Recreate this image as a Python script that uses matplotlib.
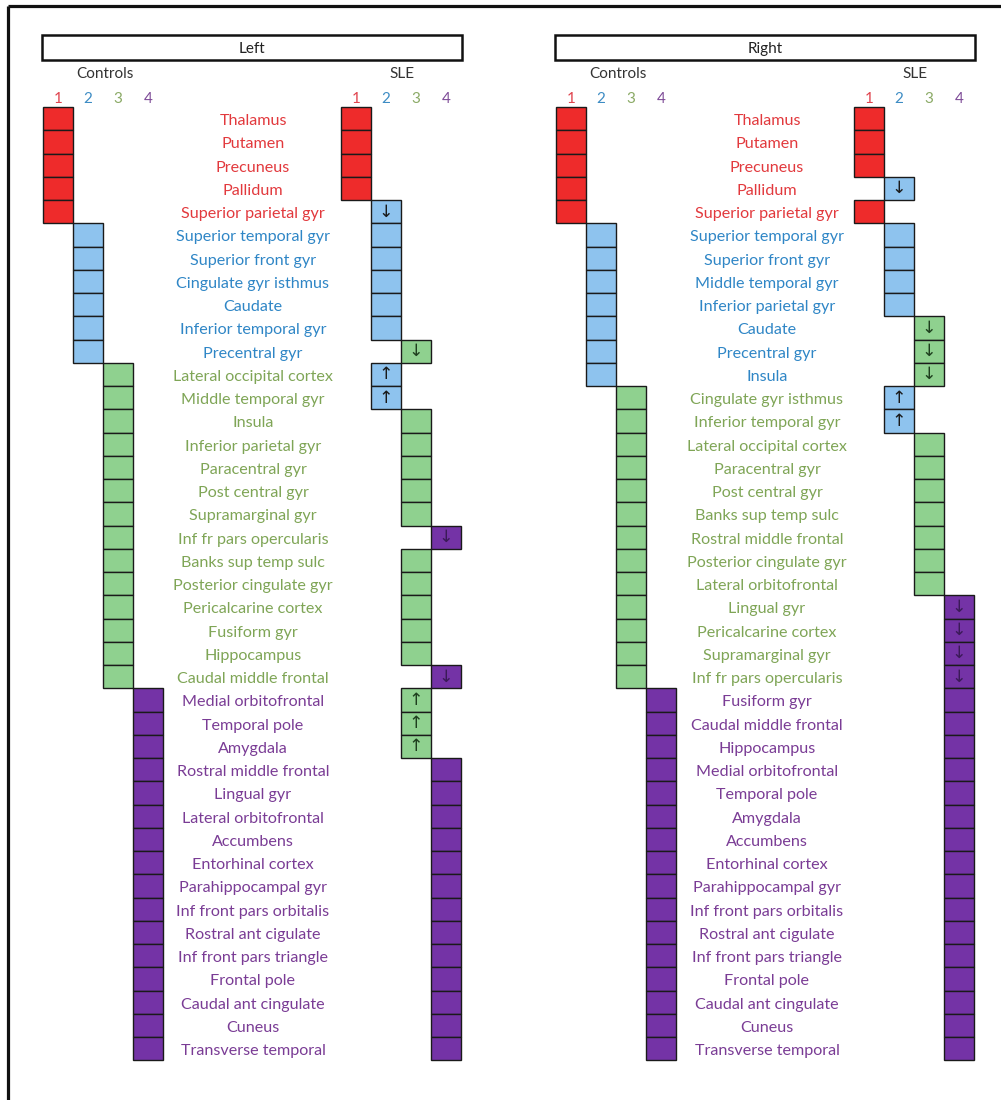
import matplotlib
matplotlib.use("Agg")
import matplotlib.pyplot as plt
from matplotlib.patches import Rectangle

# ---------------- data ----------------
left_regions = [
    "Thalamus", "Putamen", "Precuneus", "Pallidum", "Superior parietal gyr",
    "Superior temporal gyr", "Superior front gyr", "Cingulate gyr isthmus", "Caudate",
    "Inferior temporal gyr", "Precentral gyr",
    "Lateral occipital cortex", "Middle temporal gyr", "Insula", "Inferior parietal gyr",
    "Paracentral gyr", "Post central gyr", "Supramarginal gyr", "Inf fr pars opercularis",
    "Banks sup temp sulc", "Posterior cingulate gyr", "Pericalcarine cortex", "Fusiform gyr",
    "Hippocampus", "Caudal middle frontal",
    "Medial orbitofrontal", "Temporal pole", "Amygdala", "Rostral middle frontal",
    "Lingual gyr", "Lateral orbitofrontal", "Accumbens", "Entorhinal cortex",
    "Parahippocampal gyr", "Inf front pars orbitalis", "Rostral ant cigulate",
    "Inf front pars triangle", "Frontal pole", "Caudal ant cingulate", "Cuneus",
    "Transverse temporal",
]
left_controls = [1, 1, 1, 1, 1,
                 2, 2, 2, 2, 2, 2,
                 3, 3, 3, 3, 3, 3, 3, 3, 3, 3, 3, 3, 3, 3,
                 4, 4, 4, 4, 4, 4, 4, 4, 4, 4, 4, 4, 4, 4, 4, 4]
left_sle = [1, 1, 1, 1, 2,
            2, 2, 2, 2, 2, 3,
            2, 2, 3, 3, 3, 3, 3, 4, 3, 3, 3, 3, 3, 4,
            3, 3, 3, 4, 4, 4, 4, 4, 4, 4, 4, 4, 4, 4, 4, 4]

right_regions = [
    "Thalamus", "Putamen", "Precuneus", "Pallidum", "Superior parietal gyr",
    "Superior temporal gyr", "Superior front gyr", "Middle temporal gyr",
    "Inferior parietal gyr", "Caudate", "Precentral gyr", "Insula",
    "Cingulate gyr isthmus", "Inferior temporal gyr", "Lateral occipital cortex",
    "Paracentral gyr", "Post central gyr", "Banks sup temp sulc", "Rostral middle frontal",
    "Posterior cingulate gyr", "Lateral orbitofrontal", "Lingual gyr",
    "Pericalcarine cortex", "Supramarginal gyr", "Inf fr pars opercularis",
    "Fusiform gyr", "Caudal middle frontal", "Hippocampus", "Medial orbitofrontal",
    "Temporal pole", "Amygdala", "Accumbens", "Entorhinal cortex", "Parahippocampal gyr",
    "Inf front pars orbitalis", "Rostral ant cigulate", "Inf front pars triangle",
    "Frontal pole", "Caudal ant cingulate", "Cuneus", "Transverse temporal",
]
right_controls = [1, 1, 1, 1, 1,
                  2, 2, 2, 2, 2, 2, 2,
                  3, 3, 3, 3, 3, 3, 3, 3, 3, 3, 3, 3, 3,
                  4, 4, 4, 4, 4, 4, 4, 4, 4, 4, 4, 4, 4, 4, 4, 4]
right_sle = [1, 1, 1, 2, 1,
             2, 2, 2, 2, 3, 3, 3,
             2, 2, 3, 3, 3, 3, 3, 3, 3, 4, 4, 4, 4,
             4, 4, 4, 4, 4, 4, 4, 4, 4, 4, 4, 4, 4, 4, 4, 4]

module_labels = ["1", "2", "3", "4"]
panel_titles = ["Left", "Right"]
group_titles = ["Controls", "SLE"]

# ---------------- styles ----------------
cell_colors = {1: "#EE2B2B", 2: "#8EC3EE", 3: "#8FD18F", 4: "#7433A6"}
text_colors = {1: "#E2393D", 2: "#2F86C6", 3: "#7FA556", 4: "#7A3C95"}
num_colors = {1: "#E0454F", 2: "#3D8CC4", 3: "#8BAA66", 4: "#7D4A97"}
arrow_colors = {1: "#222222", 2: "#1A1A1A", 3: "#1E3F1E", 4: "#3B1A58"}
FONT = "Lato"

W, H = 1001, 1100
fig = plt.figure(figsize=(W / 100, H / 100), dpi=100)
ax = fig.add_axes([0, 0, 1, 1])
ax.set_xlim(0, W)
ax.set_ylim(H, 0)
ax.axis("off")

# partial outer frame (top and left)
ax.plot([8, W], [6, 6], color="#111111", lw=2.3, solid_capstyle="butt")
ax.plot([8, 8], [6, H], color="#111111", lw=2.3, solid_capstyle="butt")

row_top0 = 107.0
row_h = 23.25
col_w = 30.0

panels = [
    dict(title=panel_titles[0], regions=left_regions, ctrl=left_controls, sle=left_sle,
         box=(42, 462), ctrl_x=43, sle_x=341, label_x=253, ctrl_title_x=105, sle_title_x=402),
    dict(title=panel_titles[1], regions=right_regions, ctrl=right_controls, sle=right_sle,
         box=(555, 975), ctrl_x=556, sle_x=854, label_x=767, ctrl_title_x=618, sle_title_x=915),
]

for p in panels:
    x0, x1 = p["box"]
    ax.add_patch(Rectangle((x0, 35), x1 - x0, 25, facecolor="white",
                           edgecolor="#111111", lw=1.8))
    ax.text((x0 + x1) / 2, 49, p["title"], ha="center", va="center",
            fontsize=11, family=FONT, color="#222222")
    ax.text(p["ctrl_title_x"], 74, group_titles[0], ha="center", va="center",
            fontsize=11, family=FONT, color="#333333")
    ax.text(p["sle_title_x"], 74, group_titles[1], ha="center", va="center",
            fontsize=11, family=FONT, color="#333333")
    for k, lab in enumerate(module_labels):
        for base in (p["ctrl_x"], p["sle_x"]):
            ax.text(base + col_w * (k + 0.5), 99, lab, ha="center", va="center",
                    fontsize=11, family=FONT, color=num_colors[k + 1])

    n = len(p["regions"])
    tops = [row_top0 + row_h * i for i in range(n)]
    # controls cells
    ax.bar([p["ctrl_x"] + col_w * (m - 1) for m in p["ctrl"]], row_h, bottom=tops,
           width=col_w, align="edge", color=[cell_colors[m] for m in p["ctrl"]],
           edgecolor="#1a1a1a", linewidth=1.0)
    # SLE cells
    ax.bar([p["sle_x"] + col_w * (m - 1) for m in p["sle"]], row_h, bottom=tops,
           width=col_w, align="edge", color=[cell_colors[m] for m in p["sle"]],
           edgecolor="#1a1a1a", linewidth=1.0)
    for i, (name, c, s) in enumerate(zip(p["regions"], p["ctrl"], p["sle"])):
        yc = tops[i] + row_h / 2
        ax.text(p["label_x"], yc + 2.5, name, ha="center", va="center",
                fontsize=11.6, family=FONT, color=text_colors[c])
        if s != c:
            arrow = "\u2193" if s > c else "\u2191"
            ax.text(p["sle_x"] + col_w * (s - 0.5), yc, arrow, ha="center", va="center",
                    fontsize=12.5, family="DejaVu Sans", color=arrow_colors[s])

fig.savefig("out.png", dpi=100, facecolor="white")
